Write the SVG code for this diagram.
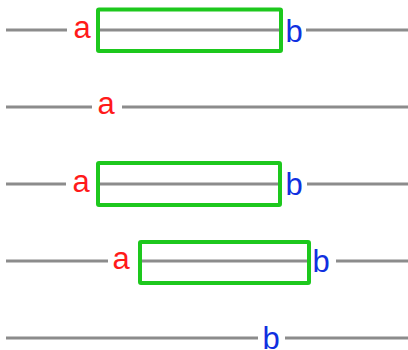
<svg xmlns="http://www.w3.org/2000/svg" width="408" height="350" viewBox="0 0 408 350">
  <style>
    .wire { stroke: #8c8c8c; stroke-width: 3; fill: none; }
    .box { stroke: #1dc81d; stroke-width: 4; fill: none; stroke-linejoin: round; }
    .lbl { font-family: "Liberation Sans", Arial, sans-serif; font-size: 31px; text-anchor: middle; }
    .a { fill: #ff1a1a; }
    .b { fill: #1030e0; }
  </style>
  <g id="connectors">
    <!-- row 1 -->
    <path class="wire" d="M6 30H67M97 30H281M306 30H408"/>
    <!-- row 2 -->
    <path class="wire" d="M6 107H92M122 107H408"/>
    <!-- row 3 -->
    <path class="wire" d="M6 184H66M97 184H280M307 184H408"/>
    <!-- row 4 -->
    <path class="wire" d="M6 261H108M139 261H310M336 261H408"/>
    <!-- row 5 -->
    <path class="wire" d="M6 338H258M285 338H408"/>
  </g>
  <g id="row1">
    <rect class="box" x="98" y="9.5" width="183" height="41.5" rx="1"/>
    <text class="lbl a" x="82" y="37.7">a</text>
    <text class="lbl b" x="294" y="41.5">b</text>
  </g>
  <g id="row2">
    <text class="lbl a" x="106" y="114.3">a</text>
  </g>
  <g id="row3">
    <rect class="box" x="98" y="163" width="182" height="42" rx="1"/>
    <text class="lbl a" x="81" y="191.5">a</text>
    <text class="lbl b" x="294" y="195.2">b</text>
  </g>
  <g id="row4">
    <rect class="box" x="140" y="242" width="169" height="41" rx="1"/>
    <text class="lbl a" x="121" y="268.8">a</text>
    <text class="lbl b" x="321" y="271.7">b</text>
  </g>
  <g id="row5">
    <text class="lbl b" x="271" y="349.2">b</text>
  </g>
</svg>
